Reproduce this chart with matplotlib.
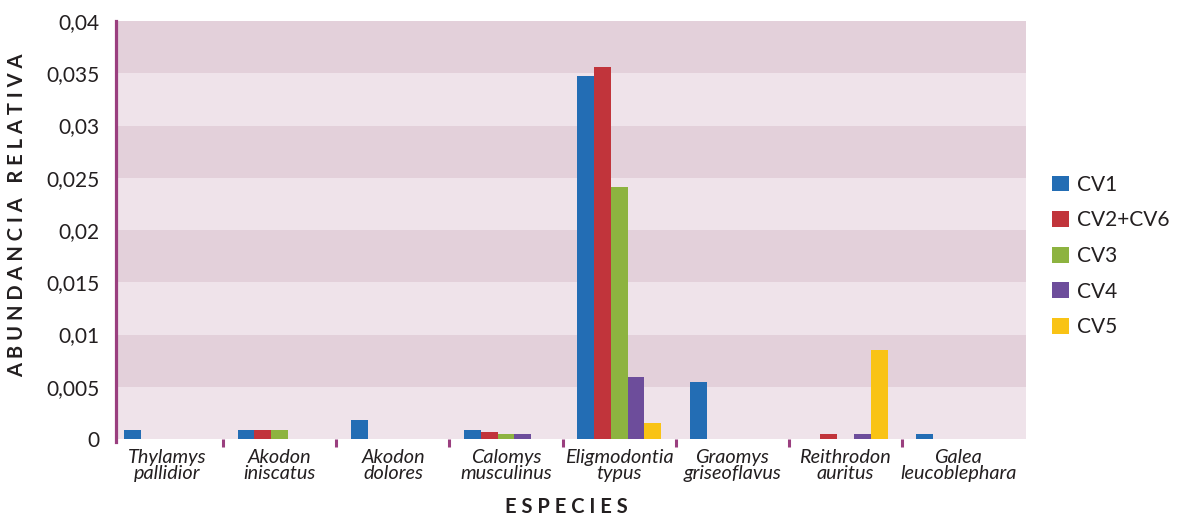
import matplotlib.pyplot as plt
from matplotlib.patches import Patch
import numpy as np

plt.rcParams['font.family'] = ['Lato', 'DejaVu Sans']

# datos
especies = ['Thylamys\npallidior', 'Akodon\niniscatus', 'Akodon\ndolores',
            'Calomys\nmusculinus', 'Eligmodontia\ntypus', 'Graomys\ngriseoflavus',
            'Reithrodon\nauritus', 'Galea\nleucoblephara']
series = ['CV1', 'CV2+CV6', 'CV3', 'CV4', 'CV5']
cv1 = [0.00086, 0.00086, 0.0018, 0.00086, 0.0347, 0.00545, 0, 0.00048]
cv2_6 = [0, 0.00086, 0, 0.00067, 0.0356, 0, 0.00048, 0]
cv3 = [0, 0.00086, 0, 0.0005, 0.0241, 0, 0, 0]
cv4 = [0, 0, 0, 0.0005, 0.0059, 0, 0.00048, 0]
cv5 = [0, 0, 0, 0, 0.00153, 0, 0.0085, 0]
yticks = [0, 0.005, 0.01, 0.015, 0.02, 0.025, 0.03, 0.035, 0.04]
ytick_labels = ['0', '0,005', '0,01', '0,015', '0,02', '0,025', '0,03', '0,035', '0,04']

colores = ['#236db4', '#c1343b', '#8db340', '#6d4d9b', '#f9c315']
morado = '#9a3f7f'
texto = '#231f20'

fig = plt.figure(figsize=(11.78, 5.17), dpi=100)
ax = fig.add_axes([116 / 1178, 1 - 439 / 517, 910 / 1178, 418 / 517])

# bandas de fondo
for i in range(8):
    c = '#e3d0da' if i % 2 == 1 else '#efe3ea'
    ax.axhspan(i * 0.005, (i + 1) * 0.005, color=c, lw=0, zorder=0)

x = np.arange(len(especies))
w = 0.15
datos = [cv1, cv2_6, cv3, cv4, cv5]
for k, vals in enumerate(datos):
    ax.bar(x + (k - 2) * w, vals, width=w, color=colores[k], zorder=2, lw=0)

ax.set_xlim(-0.45, 7.6)
ax.set_ylim(0, 0.04)

for s in ['top', 'right', 'bottom']:
    ax.spines[s].set_visible(False)
ax.spines['left'].set_color(morado)
ax.spines['left'].set_linewidth(2.3)
ax.spines['left'].set_bounds(-0.0003, 0.04)

ax.set_yticks(yticks)
ax.set_yticklabels(ytick_labels, fontsize=15, color=texto)
ax.tick_params(axis='y', length=0, pad=12)

ax.set_xticks(x)
ax.set_xticklabels(especies, fontsize=14.3, style='italic', color=texto, linespacing=0.92)
ax.tick_params(axis='x', length=0, pad=7)
ax.set_xticks(x[:-1] + 0.5, minor=True)
ax.tick_params(axis='x', which='minor', length=5.5, width=2.2, color=morado, direction='out')

fig.text(17 / 1178, 1 - 215 / 517, 'A B U N D A N C I A   R E L A T I V A',
         rotation=90, ha='center', va='center', fontsize=14.5, fontweight='bold', color=texto)
fig.text(566 / 1178, 1 - 507 / 517, 'E S P E C I E S',
         ha='center', va='center', fontsize=14.5, fontweight='bold', color=texto)

handles = [Patch(facecolor=c, edgecolor='none') for c in colores]
fig.legend(handles, series, loc='center left', bbox_to_anchor=(1052 / 1178, 1 - 256 / 517),
           frameon=False, fontsize=15, handlelength=0.8, handleheight=0.8,
           handletextpad=0.4, labelspacing=0.75, labelcolor=texto,
           borderpad=0, borderaxespad=0)

fig.savefig('out.png', dpi=100)
